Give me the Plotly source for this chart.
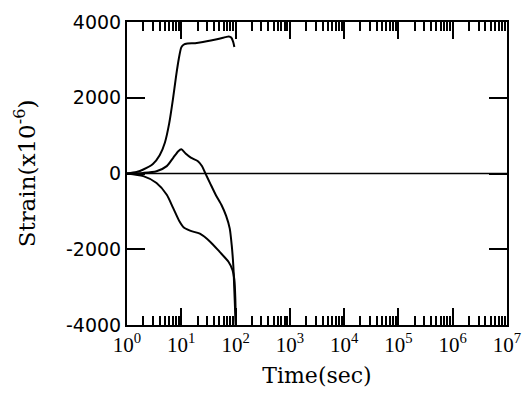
import plotly.graph_objects as go

# Curve 1 (upper)
t1 = [1, 1.5, 2, 3, 4, 5, 6, 7, 8, 9, 10, 11, 13, 18, 25, 35, 50, 65, 75, 83, 90, 95]
s1 = [0, 40, 105, 250, 480, 820, 1330, 1950, 2560, 3030, 3330, 3400, 3430, 3440, 3470, 3510, 3560, 3600, 3620, 3590, 3480, 3340]
# Curve 2 (middle: rise then collapse)
t2 = [1, 2, 3.5, 5.4, 7.1, 8.8, 10, 12, 15, 20, 24, 27.5, 34, 43, 55, 67, 78, 85, 91, 95, 98, 101]
s2 = [0, 16, 60, 195, 415, 590, 638, 530, 420, 330, 200, 16, -260, -560, -830, -1120, -1450, -1900, -2450, -3100, -3600, -4000]
# Curve 3 (lower)
t3 = [1, 2, 3.5, 5.4, 7.1, 9.3, 11, 14.5, 22, 34, 51, 74, 88, 95, 99, 101]
s3 = [0, -70, -250, -560, -915, -1270, -1420, -1510, -1590, -1800, -2070, -2330, -2550, -2800, -3300, -4000]
# Zero reference line
t0 = [1, 1e7]
s0 = [0, 0]

decades = [0, 1, 2, 3, 4, 5, 6, 7]
xtickvals = [10 ** d for d in decades]
xticktext = ["10<sup>%d</sup>" % d for d in decades]
minor_mult = [2, 3, 4, 5, 6, 7, 8, 9]
xminorvals = [m * 10 ** d for d in decades[:-1] for m in minor_mult]
ytickvals = [-4000, -2000, 0, 2000, 4000]
yticktext = ["-4000", "-2000", "0", "2000", "4000"]

fig = go.Figure()
fig.add_trace(go.Scatter(x=t0, y=s0, mode="lines", line=dict(color="black", width=1.5), showlegend=False))
for t, s in [(t1, s1), (t2, s2), (t3, s3)]:
    fig.add_trace(go.Scatter(x=t, y=s, mode="lines",
                             line=dict(color="black", width=2, shape="spline", smoothing=0.7),
                             showlegend=False))
# invisible trace to carry the minor-tick overlay axis
fig.add_trace(go.Scatter(x=t0, y=s0, xaxis="x2", mode="lines", line=dict(width=0),
                         hoverinfo="skip", showlegend=False))

fig.update_layout(
    width=524, height=397,
    margin=dict(l=127, r=17, t=22, b=72),
    paper_bgcolor="white", plot_bgcolor="white",
    font=dict(family="DejaVu Serif", size=17, color="black"),
    xaxis=dict(
        type="log", range=[0, 7], automargin=False,
        tickvals=xtickvals, ticktext=xticktext,
        tickfont=dict(family="Liberation Serif", size=21),
        ticks="inside", ticklen=17, tickwidth=2, tickcolor="black",
        showline=True, linecolor="black", linewidth=2, mirror="ticks",
        showgrid=False, zeroline=False,
        title=dict(text="Time(sec)", font=dict(family="DejaVu Serif", size=22), standoff=11),
    ),
    xaxis2=dict(
        type="log", range=[0, 7], overlaying="x", anchor="y", side="bottom", automargin=False,
        tickvals=xminorvals, showticklabels=False,
        ticks="inside", ticklen=9, tickwidth=1.5, tickcolor="black",
        showline=False, mirror="ticks", showgrid=False, zeroline=False,
    ),
    yaxis=dict(
        range=[-4000, 4000], automargin=False,
        tickvals=ytickvals, ticktext=yticktext,
        tickfont=dict(family="DejaVu Sans", size=19),
        ticks="inside", ticklen=18, tickwidth=2, tickcolor="black",
        showline=True, linecolor="black", linewidth=2, mirror="ticks",
        showgrid=False, zeroline=False,
        title=dict(text="Strain(x10<sup>-6</sup>)", font=dict(family="DejaVu Serif", size=23), standoff=24),
    ),
)

fig.write_html("out.html", config={"displayModeBar": False},
               post_script="document.body.style.margin='0';")
